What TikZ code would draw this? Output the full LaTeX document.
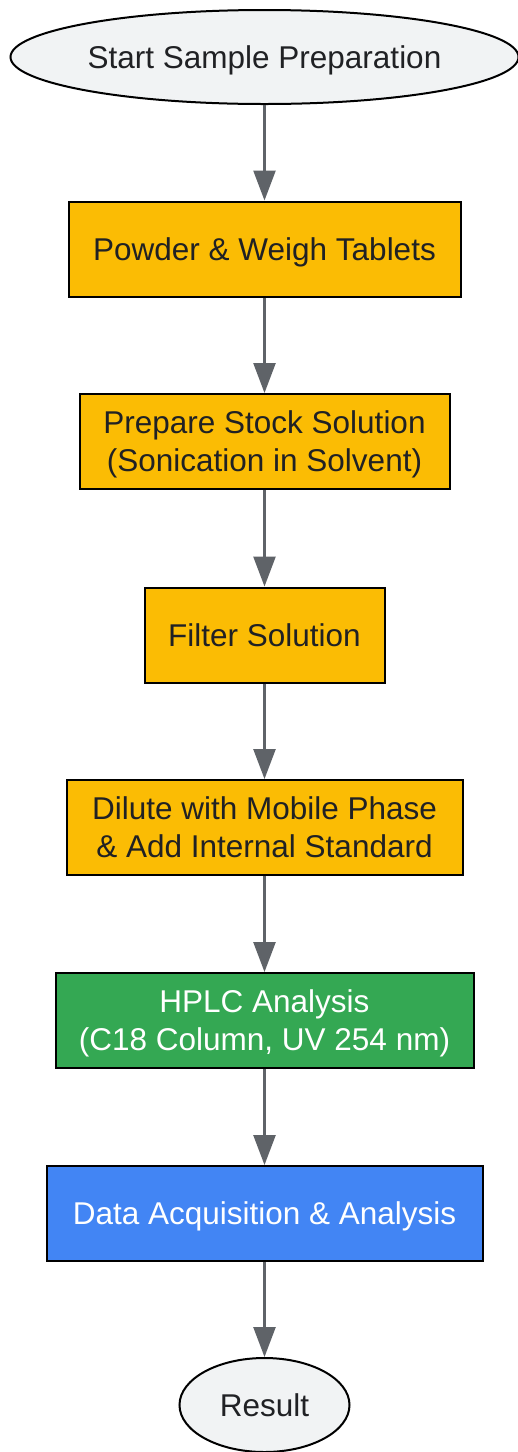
\documentclass[tikz,border=0pt]{standalone}
\usepackage{fontspec}
\setmainfont{Liberation Sans}
\usetikzlibrary{shapes.geometric,arrows.meta}
\definecolor{stepyellow}{HTML}{FBBC04}
\definecolor{stepgreen}{HTML}{34A853}
\definecolor{stepblue}{HTML}{4285F4}
\definecolor{termgray}{HTML}{F1F3F4}
\definecolor{linegray}{HTML}{5F6368}
\definecolor{textgray}{HTML}{202124}

\begin{document}
\begin{tikzpicture}[x=1pt,y=-1pt,
  every node/.style={font=\fontsize{31.5}{38}\selectfont,text=textgray,align=center,line width=2pt,draw=black,inner sep=0pt,text depth=0pt},
  term/.style={ellipse,fill=termgray,minimum height=94pt},
  stepbox/.style={rectangle,fill=stepyellow,minimum height=95pt},
  flow/.style={-{Triangle[width=22pt,length=30pt]},draw=linegray,line width=2.5pt}]

\useasboundingbox[fill=white] (0,0) rectangle (518,1452);

\node[term,minimum width=508pt] (start) at (264.5,57) {Start Sample Preparation};
\node[stepbox,minimum width=392pt] (weigh) at (264.5,249) {Powder \& Weigh Tablets};
\node[stepbox,minimum width=370pt] (stock) at (264.5,441.5) {Prepare Stock Solution\\(Sonication in Solvent)};
\node[stepbox,minimum width=240pt] (filter) at (264.5,635) {Filter Solution};
\node[stepbox,minimum width=396pt] (dilute) at (264.5,827.5) {Dilute with Mobile Phase\\\& Add Internal Standard};
\node[stepbox,fill=stepgreen,text=white,minimum width=418pt] (hplc) at (264.5,1020.5) {HPLC Analysis\\(C18 Column, UV 254 nm)};
\node[stepbox,fill=stepblue,text=white,minimum width=436pt] (data) at (264.5,1213.5) {Data Acquisition \& Analysis};
\node[term,minimum width=170pt] (result) at (264.5,1405) {Result};

% arrows
\draw[flow] (start) -- (weigh);
\draw[flow] (weigh) -- (stock);
\draw[flow] (stock) -- (filter);
\draw[flow] (filter) -- (dilute);
\draw[flow] (dilute) -- (hplc);
\draw[flow] (hplc) -- (data);
\draw[flow] (data) -- (result);

\end{tikzpicture}
\end{document}
